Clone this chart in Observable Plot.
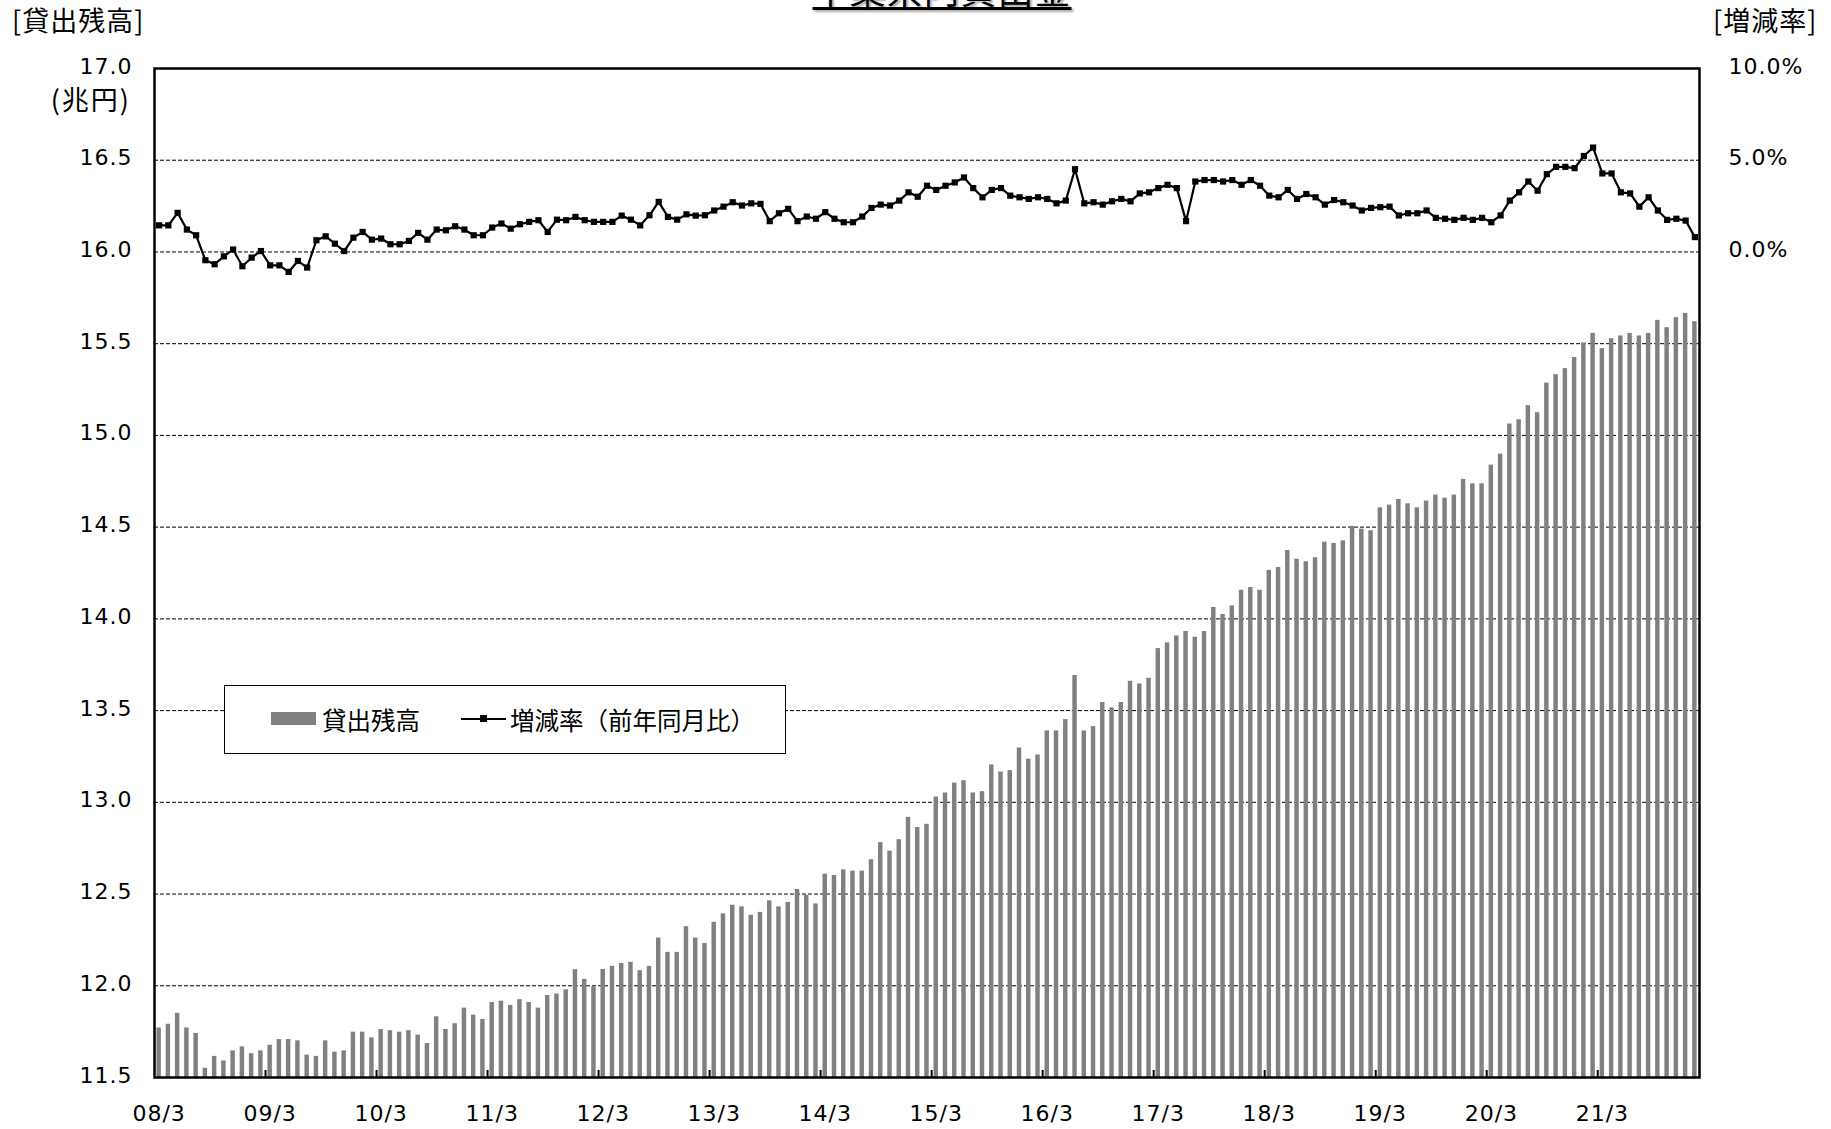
<!DOCTYPE html>
<html><head><meta charset="utf-8">
<script src="https://cdn.jsdelivr.net/npm/d3@7"></script>
<script src="https://cdn.jsdelivr.net/npm/@observablehq/plot@0.6"></script>
<style>
body{margin:0;background:#fff;}
#wrap{position:relative;width:1831px;height:1129px;overflow:hidden;background:#fff;}
#chart{position:absolute;left:0;top:0;}
#chart svg text{letter-spacing:1px;}
.jp{position:absolute;font-family:"Noto Sans CJK JP","Noto Sans",sans-serif;color:#000;line-height:1;white-space:nowrap;}
#title{left:942px;top:-30px;transform:translateX(-50%);font-size:36px;letter-spacing:1px;text-decoration:underline;text-decoration-thickness:3px;text-underline-offset:3px;text-shadow:2px 2px 2px rgba(0,0,0,0.35);}
#lab-l{left:12px;top:6px;font-size:27px;letter-spacing:1px;}
#lab-r{left:1713px;top:6px;font-size:27px;letter-spacing:1px;}
#unit{right:1700px;top:85px;font-size:27px;letter-spacing:2px;}
#legend{position:absolute;left:224px;top:685px;width:562px;height:69px;border:1.5px solid #000;background:#fff;box-sizing:border-box;}
#legend .sw-bar{position:absolute;left:46px;top:26px;width:45px;height:13px;background:#808080;}
#legend .sw-line{position:absolute;left:236px;top:32px;width:45px;height:2px;background:#000;}
#legend .sw-line i{position:absolute;left:19px;top:-3px;width:7px;height:7px;background:#000;}
#legend .lt{position:absolute;top:34px;transform:translateY(-50%);font-size:24.5px;}
</style></head><body>
<div id="wrap">
  <div id="chart"></div>
  <div class="jp" id="title">千葉県内貸出金</div>
  <div class="jp" id="lab-l">[貸出残高]</div>
  <div class="jp" id="lab-r">[増減率]</div>
  <div class="jp" id="unit">(兆円)</div>
  <div id="legend">
    <span class="sw-bar"></span><span class="jp lt" style="left:97px">貸出残高</span>
    <span class="sw-line"><i></i></span><span class="jp lt" style="left:285px">増減率（前年同月比）</span>
  </div>
</div>
<script>
// 貸出残高（兆円） monthly, 2008/3 .. 2022/1
const loans = [
11.77,11.79,11.85,11.77,11.74,11.55,11.615,11.59,11.645,11.667,11.63,11.645,
11.676,11.707,11.707,11.70,11.622,11.615,11.70,11.638,11.645,11.747,11.747,11.716,
11.762,11.755,11.747,11.755,11.731,11.685,11.831,11.762,11.793,11.878,11.84,11.816,
11.909,11.916,11.893,11.924,11.909,11.878,11.947,11.955,11.978,12.088,12.035,11.995,
12.089,12.106,12.122,12.128,12.082,12.106,12.26,12.182,12.182,12.322,12.26,12.23,
12.346,12.392,12.439,12.43,12.384,12.40,12.463,12.43,12.454,12.525,12.492,12.446,
12.608,12.601,12.632,12.625,12.625,12.687,12.78,12.734,12.796,12.918,12.863,12.88,
13.029,13.051,13.105,13.118,13.051,13.058,13.204,13.165,13.173,13.296,13.235,13.258,
13.389,13.389,13.451,13.691,13.389,13.413,13.544,13.515,13.544,13.66,13.645,13.676,
13.838,13.869,13.907,13.931,13.90,13.931,14.062,14.024,14.071,14.156,14.171,14.156,
14.264,14.28,14.373,14.325,14.311,14.333,14.418,14.411,14.425,14.504,14.489,14.48,
14.605,14.62,14.651,14.627,14.605,14.642,14.675,14.658,14.675,14.76,14.736,14.736,
14.838,14.898,15.062,15.085,15.162,15.124,15.285,15.331,15.364,15.425,15.504,15.556,
15.473,15.527,15.542,15.556,15.542,15.556,15.627,15.587,15.642,15.665,15.62
];
// 増減率（前年同月比, %）
const growth = [
1.45,1.45,2.13,1.22,0.91,-0.45,-0.67,-0.24,0.13,-0.78,-0.31,0.05,
-0.73,-0.73,-1.09,-0.49,-0.85,0.64,0.85,0.45,0.05,0.78,1.09,0.67,
0.73,0.42,0.42,0.60,1.04,0.67,1.22,1.18,1.40,1.22,0.91,0.91,
1.33,1.55,1.27,1.51,1.64,1.73,1.09,1.76,1.73,1.91,1.73,1.64,
1.64,1.64,1.98,1.76,1.45,2.00,2.73,1.91,1.76,2.05,1.98,2.00,
2.26,2.47,2.71,2.53,2.65,2.62,1.68,2.11,2.35,1.68,1.93,1.81,
2.17,1.81,1.62,1.62,1.93,2.40,2.58,2.53,2.80,3.25,3.01,3.61,
3.38,3.61,3.79,4.06,3.48,2.98,3.38,3.48,3.07,2.98,2.89,2.98,
2.89,2.65,2.80,4.51,2.65,2.71,2.58,2.76,2.89,2.76,3.19,3.25,
3.48,3.66,3.48,1.68,3.84,3.92,3.92,3.84,3.92,3.66,3.92,3.61,
3.07,2.98,3.38,2.89,3.16,2.98,2.58,2.83,2.71,2.53,2.26,2.40,
2.44,2.47,1.99,2.11,2.11,2.26,1.86,1.81,1.75,1.86,1.75,1.86,
1.62,1.99,2.80,3.25,3.84,3.34,4.24,4.64,4.64,4.57,5.23,5.69,
4.28,4.28,3.25,3.19,2.47,2.98,2.26,1.75,1.81,1.71,0.81
];
const startYear = 2008, startMonth = 3;
const months = loans.map((_, i) => {
  const m = startMonth - 1 + i;
  return String((startYear + Math.floor(m / 12)) % 100).padStart(2, "0") + "/" + (m % 12 + 1);
});
const leftTicks = [11.5,12.0,12.5,13.0,13.5,14.0,14.5,15.0,15.5,16.0,16.5,17.0];
const gridTicks = [12.0,12.5,13.0,13.5,14.0,14.5,15.0,15.5,16.0,16.5];
const pctTicks = [0, 5, 10];
const pctLabels = ["0.0%", "5.0%", "10.0%"];
const pctBase = 16.0, pctPerUnit = 10; // 0% at 16.0, 10% at 17.0

const W = 1831, H = 1129, ML = 154, MR = 132, MT = 68, MB = 52;
const idx = d3.range(loans.length);
const marchIdx = idx.filter(i => months[i].endsWith("/3"));
const toY = p => pctBase + p / pctPerUnit;
const pctMap = new Map(pctTicks.map((p, k) => [toY(p), pctLabels[k]]));

const chart = Plot.plot({
  width: W, height: H,
  marginLeft: ML, marginRight: MR, marginTop: MT, marginBottom: MB,
  x: {type: "linear", domain: [0, loans.length], axis: null},
  y: {domain: [11.5, 17.0], axis: null},
  style: {fontSize: "22px", fontFamily: "'DejaVu Sans','Noto Sans CJK JP',sans-serif", color: "#000", background: "#fff"},
  marks: [
    Plot.ruleY(gridTicks, {stroke: "#000", strokeWidth: 1, strokeDasharray: "4,2"}),
    Plot.rectY(idx, {x1: i => i, x2: i => i + 1, y1: 11.5, y2: i => loans[i], fill: "#808080", insetLeft: 2.4, insetRight: 2.4}),
    Plot.line(idx, {x: i => i + 0.5, y: i => toY(growth[i]), stroke: "#000", strokeWidth: 2.2}),
    Plot.dot(idx, {x: i => i + 0.5, y: i => toY(growth[i]), symbol: "square", r: 3.5, fill: "#000"}),
    Plot.ruleX(marchIdx.filter(i => i > 0), {x: d => d, stroke: "#000", strokeWidth: 2, insetTop: H - MT - MB - 7}),
    Plot.axisY(leftTicks, {anchor: "left", tickSize: 0, tickPadding: 22, dy: -2, tickFormat: d3.format(".1f"), label: null}),
    Plot.axisY(pctTicks.map(toY), {anchor: "right", tickSize: 0, tickPadding: 29, dy: -2, tickFormat: v => pctMap.get(v), label: null}),
    Plot.axisX(marchIdx.map(i => i + 0.5), {anchor: "bottom", tickSize: 0, tickPadding: 28, tickFormat: v => months[Math.round(v - 0.5)], label: null}),
    Plot.frame({stroke: "#000", strokeWidth: 2.5})
  ]
});
document.getElementById("chart").appendChild(chart);
</script>
</body></html>
